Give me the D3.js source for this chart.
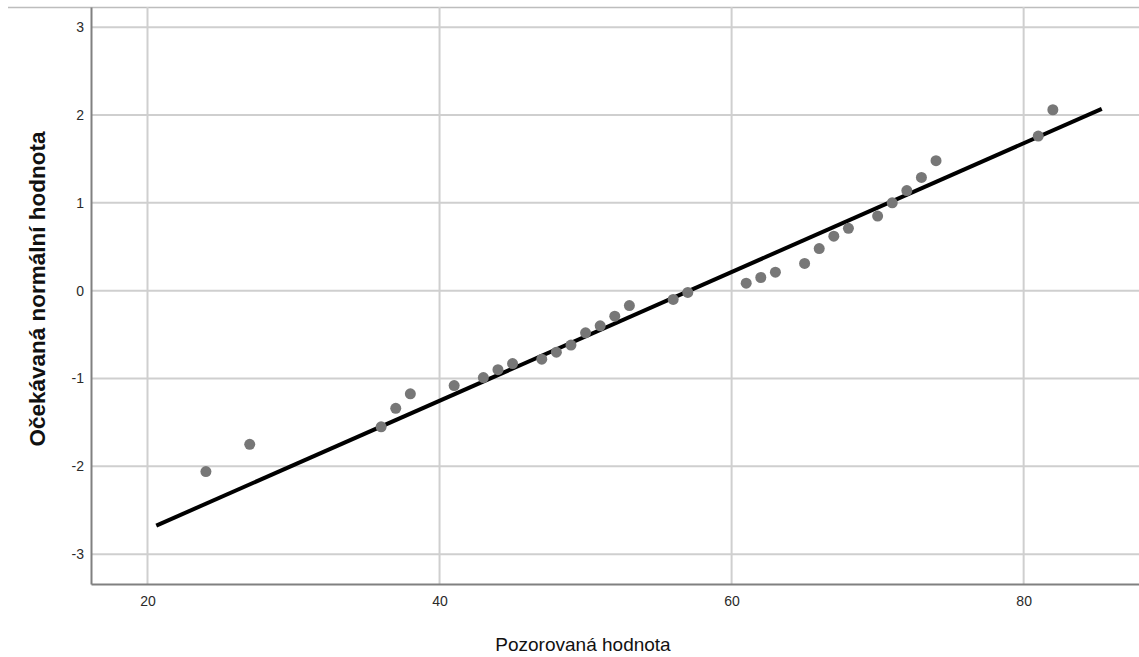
<!DOCTYPE html>
<html>
<head>
<meta charset="utf-8">
<script src="https://cdn.jsdelivr.net/npm/d3@7"></script>
<style>
  body { margin: 0; background: #fff; }
  svg { display: block; }
</style>
</head>
<body>
<svg id="chart" width="1139" height="657"></svg>
<script>
// Data
const observed = [24, 27, 36, 37, 38, 41, 43, 44, 45, 47, 48, 49, 50, 51, 52, 53, 56, 57,
                  61, 62, 63, 65, 66, 67, 68, 70, 71, 72, 73, 74, 81, 82];
const expected = [-2.06, -1.75, -1.55, -1.34, -1.175, -1.08, -0.99, -0.90, -0.83, -0.78, -0.70, -0.62,
                  -0.48, -0.40, -0.29, -0.17, -0.10, -0.02, 0.085, 0.15, 0.21, 0.31, 0.48, 0.62,
                  0.71, 0.85, 1.00, 1.14, 1.29, 1.48, 1.76, 2.06];
const fitX = [20.6, 85.35];
const fitY = [-2.675, 2.07];
const xTicks = [20, 40, 60, 80];
const yTicks = [-3, -2, -1, 0, 1, 2, 3];
const xTitle = "Pozorovaná hodnota";
const yTitle = "Očekávaná normální hodnota";

(function () {
const svg = d3.select("#chart");
const pLeft = 91, pRight = 1139, pTop = 7, pBottom = 584;

const x = d3.scaleLinear().domain([16.13, 87.9]).range([pLeft, pRight]);
const y = d3.scaleLinear().domain([-3.34, 3.23]).range([pBottom, pTop]);
const fmt = d => String(d);

// top frame line
svg.append("line")
  .attr("x1", 8).attr("x2", pRight).attr("y1", pTop + 0.5).attr("y2", pTop + 0.5)
  .attr("stroke", "#bdbdbd").attr("stroke-width", 1.5);

// gridlines
svg.append("g").selectAll("line").data(yTicks).join("line")
  .attr("x1", pLeft).attr("x2", pRight)
  .attr("y1", d => y(d)).attr("y2", d => y(d))
  .attr("stroke", "#cfcfcf").attr("stroke-width", 2);
svg.append("g").selectAll("line").data(xTicks).join("line")
  .attr("y1", pTop).attr("y2", pBottom)
  .attr("x1", d => x(d)).attr("x2", d => x(d))
  .attr("stroke", "#cfcfcf").attr("stroke-width", 2);

// axes
const xAxis = svg.append("g").attr("transform", `translate(0,${pBottom})`)
  .call(d3.axisBottom(x).tickValues(xTicks).tickSize(0).tickPadding(12).tickFormat(fmt));
const yAxis = svg.append("g").attr("transform", `translate(${pLeft},0)`)
  .call(d3.axisLeft(y).tickValues(yTicks).tickSize(0).tickPadding(7).tickFormat(fmt));
[xAxis, yAxis].forEach(a => {
  a.select(".domain").attr("stroke", "#808080").attr("stroke-width", 2);
  a.selectAll("text").attr("font-family", "Liberation Sans, Arial, sans-serif")
    .attr("font-size", 14).attr("fill", "#2a2a2a");
});

// fit line
svg.append("line")
  .attr("x1", x(fitX[0])).attr("y1", y(fitY[0]))
  .attr("x2", x(fitX[1])).attr("y2", y(fitY[1]))
  .attr("stroke", "#000").attr("stroke-width", 4).attr("stroke-linecap", "butt");

// points
svg.append("g").selectAll("circle").data(observed.map((v, i) => [v, expected[i]])).join("circle")
  .attr("cx", d => x(d[0])).attr("cy", d => y(d[1])).attr("r", 5.5)
  .attr("fill", "#777777");

// titles
svg.append("text")
  .attr("x", 583).attr("y", 651)
  .attr("text-anchor", "middle")
  .attr("font-family", "Liberation Sans, Arial, sans-serif")
  .attr("font-size", 19).attr("fill", "#111")
  .text(xTitle);

svg.append("text")
  .attr("transform", `translate(45,289) rotate(-90)`)
  .attr("text-anchor", "middle")
  .attr("font-family", "Liberation Sans, Arial, sans-serif")
  .attr("font-size", 22.5).attr("font-weight", "bold").attr("fill", "#111")
  .text(yTitle);
})();
</script>
</body>
</html>
